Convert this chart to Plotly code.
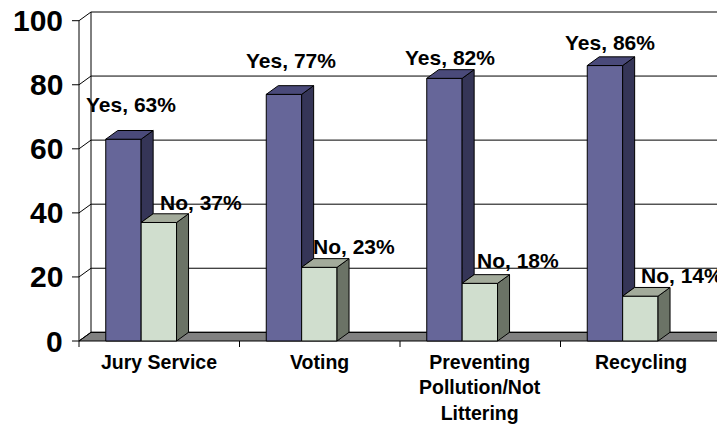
import plotly.graph_objects as go

# ---- data ----
categories = ["Jury Service", "Voting", "Preventing<br>Pollution/Not<br>Littering", "Recycling"]
yes_values = [63, 77, 82, 86]
no_values = [37, 23, 18, 14]
y_ticks = [0, 20, 40, 60, 80, 100]

# ---- geometry / style ----
PAGE_OFF = 8         # default body margin of the html page
PXX = 160.5          # px per category
PXY = 3.203          # px per value unit
X0, Y0 = 79 - PAGE_OFF, 341 - PAGE_OFF   # front origin in figure pixels
W_FIG, H_FIG = 725 - PAGE_OFF, 425 - PAGE_OFF
DX = 12 / PXX        # 3-D depth offsets (data units)
DY = 8.7 / PXY
BAR_W = 0.2205
BAR_OFF = 0.1667
FONT = "Liberation Sans, Arial, Helvetica, sans-serif"

YES_FRONT, YES_SIDE, YES_TOP = "#666699", "#353557", "#4a4a7a"
NO_FRONT, NO_SIDE, NO_TOP = "#d0dece", "#6b7366", "#a3ab9b"
FLOOR = "#808080"

# label pixel shifts relative to bar front-top centre
yes_shift = [(8, 35), (7, 34), (6, 21), (5, 23)]
no_shift = [(42, 20), (35, 21), (38, 23), (42, 21)]

xr = [-X0 / PXX, (W_FIG - X0) / PXX]
yr = [-(H_FIG - Y0) / PXY, Y0 / PXY]
n = len(categories)

fig = go.Figure()

# front faces
fig.add_trace(go.Bar(x=list(range(n)), y=yes_values, width=BAR_W, offset=BAR_OFF,
                     marker=dict(color=YES_FRONT, line=dict(color="black", width=1)),
                     hoverinfo="skip", showlegend=False))
fig.add_trace(go.Bar(x=list(range(n)), y=no_values, width=BAR_W, offset=BAR_OFF + BAR_W,
                     marker=dict(color=NO_FRONT, line=dict(color="black", width=1)),
                     hoverinfo="skip", showlegend=False))


def faces(values, start, bottoms):
    sx, sy, tx, ty = [], [], [], []
    for i, v in enumerate(values):
        xl = i + start
        xrr = xl + BAR_W
        b = bottoms[i]
        sx += [xrr, xrr + DX, xrr + DX, xrr, xrr, None]
        sy += [b, b + DY, v + DY, v, b, None]
        tx += [xl, xrr, xrr + DX, xl + DX, xl, None]
        ty += [v, v, v + DY, v + DY, v, None]
    return sx, sy, tx, ty


ysx, ysy, ytx, yty = faces(yes_values, BAR_OFF, no_values)
nsx, nsy, ntx, nty = faces(no_values, BAR_OFF + BAR_W, [0] * n)
for xs, ys, col in [(ysx, ysy, YES_SIDE), (ytx, yty, YES_TOP), (nsx, nsy, NO_SIDE), (ntx, nty, NO_TOP)]:
    fig.add_trace(go.Scatter(x=xs, y=ys, mode="lines", fill="toself", fillcolor=col,
                             line=dict(color="black", width=1), hoverinfo="skip", showlegend=False))

shapes = []
# floor
shapes.append(dict(type="path", layer="below", xref="x", yref="y",
                   path=f"M0,0 L{n},0 L{n + DX},{DY} L{DX},{DY} Z",
                   fillcolor=FLOOR, line=dict(color="black", width=1)))
# gridlines on back wall + side wall diagonals + y ticks
for v in y_ticks:
    shapes.append(dict(type="line", layer="below", x0=DX, x1=n + DX, y0=v + DY, y1=v + DY,
                       line=dict(color="black", width=1)))
    shapes.append(dict(type="line", layer="below", x0=0, x1=DX, y0=v, y1=v + DY,
                       line=dict(color="black", width=1)))
    shapes.append(dict(type="line", layer="below", x0=-7 / PXX, x1=0, y0=v, y1=v,
                       line=dict(color="black", width=1)))
# axis lines
shapes.append(dict(type="line", layer="below", x0=0, x1=0, y0=0, y1=max(y_ticks),
                   line=dict(color="black", width=1)))
shapes.append(dict(type="line", layer="below", x0=DX, x1=DX, y0=DY, y1=max(y_ticks) + DY,
                   line=dict(color="black", width=1)))
# category ticks
for i in range(n + 1):
    shapes.append(dict(type="line", layer="below", x0=i, x1=i, y0=0, y1=-6 / PXY,
                       line=dict(color="black", width=1)))

ann = []
for v in y_ticks:
    ann.append(dict(x=-14 / PXX, y=v, text=f"<b>{v}</b>", showarrow=False, xanchor="right",
                    yanchor="middle", font=dict(family=FONT, size=30, color="black")))
for i, c in enumerate(categories):
    ann.append(dict(x=i + 0.5, y=-8 / PXY, text=f"<b>{c}</b>", showarrow=False, xanchor="center",
                    yanchor="top", align="center", font=dict(family=FONT, size=19.5, color="black")))
for i, v in enumerate(yes_values):
    ann.append(dict(x=i + BAR_OFF + BAR_W / 2, y=v, text=f"<b>Yes, {v}%</b>", showarrow=False,
                    xanchor="center", yanchor="middle", xshift=yes_shift[i][0], yshift=yes_shift[i][1],
                    font=dict(family=FONT, size=21, color="black")))
for i, v in enumerate(no_values):
    ann.append(dict(x=i + BAR_OFF + 1.5 * BAR_W, y=v, text=f"<b>No, {v}%</b>", showarrow=False,
                    xanchor="center", yanchor="middle", xshift=no_shift[i][0], yshift=no_shift[i][1],
                    font=dict(family=FONT, size=21, color="black")))

fig.update_layout(
    width=W_FIG, height=H_FIG, margin=dict(l=0, r=0, t=0, b=0),
    paper_bgcolor="white", plot_bgcolor="white", barmode="overlay",
    xaxis=dict(range=xr, visible=False, fixedrange=True),
    yaxis=dict(range=yr, visible=False, fixedrange=True),
    shapes=shapes, annotations=ann, showlegend=False,
)

fig.write_html("out.html")
